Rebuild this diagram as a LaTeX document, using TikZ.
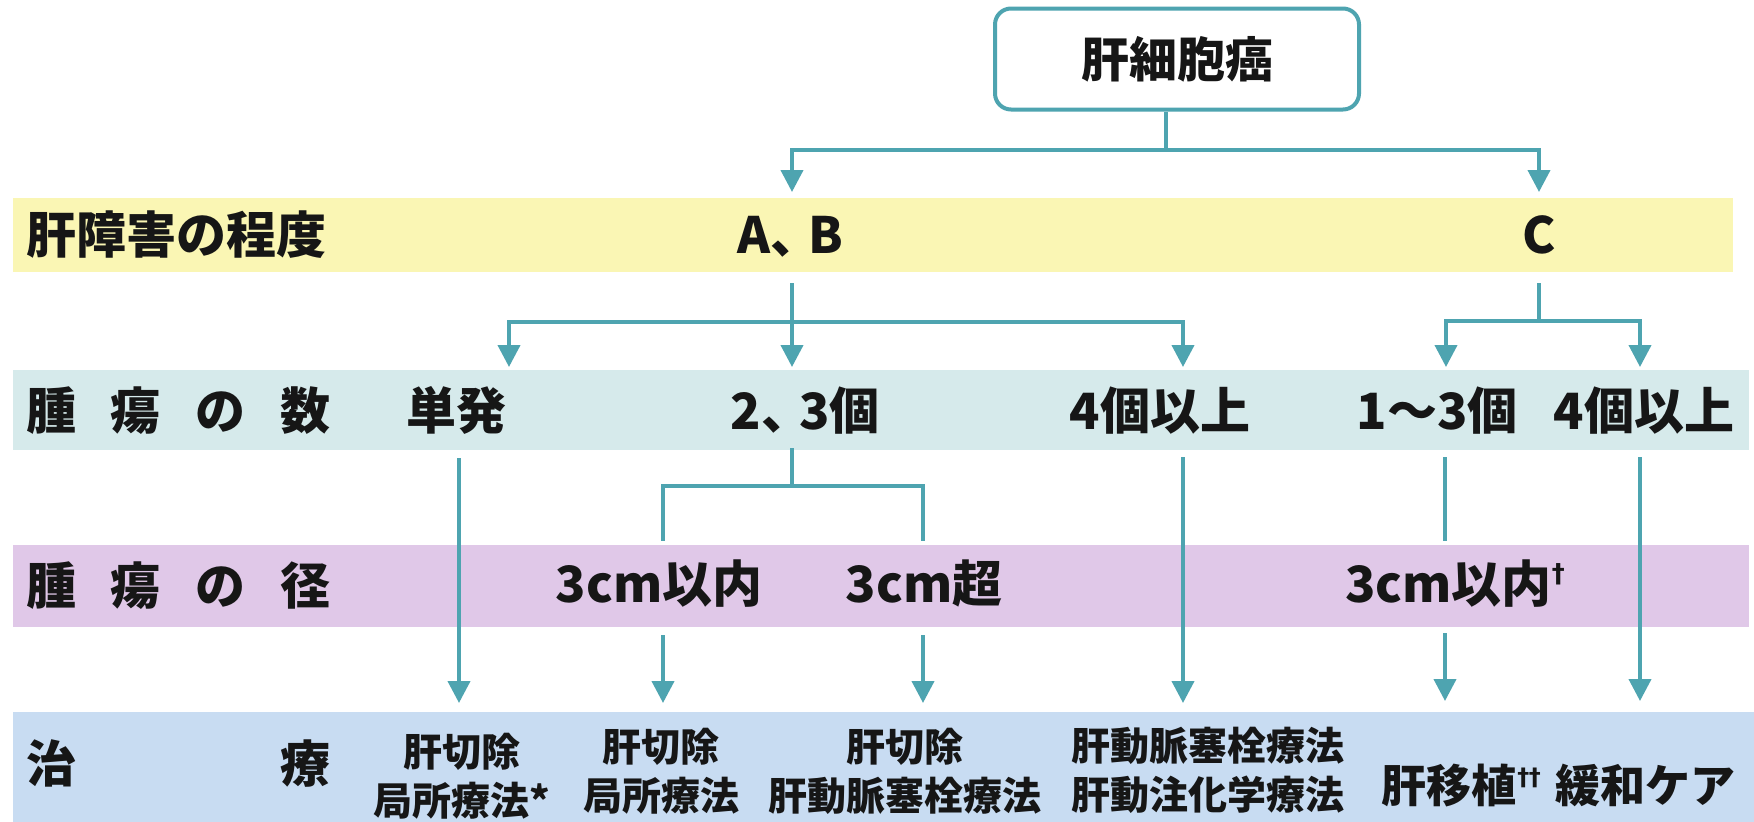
\documentclass[tikz,border=0pt]{standalone}
\usepackage{fontspec}
\setmainfont{Noto Sans CJK JP}
\newfontfamily\dvs{DejaVu Sans}
\usetikzlibrary{arrows.meta}
\definecolor{tealline}{RGB}{78,164,176}
\definecolor{yband}{RGB}{250,246,180}
\definecolor{cband}{RGB}{214,234,235}
\definecolor{pband}{RGB}{224,200,232}
\definecolor{bband}{RGB}{200,220,242}
\definecolor{ink}{RGB}{22,22,22}
\newcommand{\dg}[1]{{\dvs\fontsize{26}{26}\selectfont\raisebox{#1}{†}}}
\newcommand{\ddg}[1]{{\dvs\fontsize{24}{24}\selectfont\raisebox{#1}{\kern1pt†\kern-0.5pt†}}}
\newcommand{\tou}{、\kern-12pt}
\begin{document}
\begin{tikzpicture}[x=1pt,y=-1pt,
  band/.style={draw=none, inner sep=0pt, outer sep=0pt, anchor=north west},
  lbl/.style={font=\fontsize{50}{60}\selectfont\bfseries, text=ink, anchor=base west, inner sep=0pt},
  val/.style={font=\fontsize{50}{60}\selectfont\bfseries, text=ink, anchor=base, inner sep=0pt},
  trt/.style={font=\fontsize{39}{49}\selectfont\bfseries, text=ink, inner sep=0pt, align=center},
  big/.style={font=\fontsize{45}{50}\selectfont\bfseries, text=ink, anchor=base, inner sep=0pt},
  conn/.style={draw=tealline, line width=4pt},
  arr/.style={conn, -{Triangle[width=22pt,length=22pt]}},
]
\useasboundingbox (0,0) rectangle (1754,822);
\fill[white] (0,0) rectangle (1754,822);

% bands
\node[band, fill=yband, minimum width=1720pt, minimum height=74pt] (byel) at (13,198) {};
\node[band, fill=cband, minimum width=1736pt, minimum height=80pt] (bcy) at (13,370) {};
\node[band, fill=pband, minimum width=1736pt, minimum height=82pt] (bpu) at (13,545) {};
\node[band, fill=bband, minimum width=1741pt, minimum height=110pt] (bbl) at (13,712) {};

% top box
\node[draw=tealline, line width=4pt, rounded corners=16pt, fill=white,
      minimum width=364pt, minimum height=101pt, inner sep=0pt,
      font=\fontsize{48}{56}\selectfont\bfseries, text=ink] (hcc) at (1177,59) {肝細胞癌};

% row labels
\node[lbl] (l1) at (26,253) {肝障害の程度};
\node[lbl] (l2) at (26,429) {\makebox[304pt][s]{腫\hfill 瘍\hfill の\hfill 数}};
\node[lbl] (l3) at (26,604) {\makebox[304pt][s]{腫\hfill 瘍\hfill の\hfill 径}};
\node[lbl] (l4) at (26,782) {\makebox[304pt][s]{治\hfill 療}};

% values
\node[val] (ab) at (790,253) {A\tou B};
\node[val] (c) at (1539,253) {C};
\node[val] (tan) at (456,429) {単発};
\node[val] (n23) at (805,429) {2\tou 3個};
\node[val] (n4) at (1160,429) {4個以上};
\node[val] (n13) at (1437,429) {1～3個};
\node[val] (n4c) at (1644,429) {4個以上};
\node[val] (d3in) at (659,602) {3cm以内};
\node[val] (d3ov) at (924,602) {3cm超};
\node[val] (d3c) at (1455,602) {3cm以内\dg{20pt}};

% treatments
\node[trt] (t1) at (462,776) {肝切除\\局所療法*};
\node[trt] (t2) at (661,771) {肝切除\\局所療法};
\node[trt] (t3) at (905,771) {肝切除\\肝動脈塞栓療法};
\node[trt] (t4) at (1208,770) {肝動脈塞栓療法\\肝動注化学療法};
\node[big] (t5) at (1461,802) {肝移植\ddg{17pt}};
\node[big] (t6) at (1645,802) {緩和ケア};

% connectors: level 1
\coordinate (j0) at (1166,150);
\coordinate (tAB) at (792,192);
\coordinate (tC) at (1539,192);
\draw[conn] (hcc.south -| j0) -- (j0);
\draw[arr] (j0) -| (tAB);
\draw[arr] (j0) -| (tC);

% A,B split
\coordinate (sAB) at (792,283);
\coordinate (jAB) at (792,322);
\coordinate (tTan) at (509,367);
\coordinate (t23) at (792,367);
\coordinate (t4a) at (1183,367);
\draw[conn] (sAB) -- (jAB);
\draw[arr] (jAB) -| (tTan);
\draw[arr] (jAB) -- (t23);
\draw[arr] (jAB) -| (t4a);

% C split
\coordinate (sC) at (1539,283);
\coordinate (jC) at (1539,321);
\coordinate (t13) at (1446,367);
\coordinate (t4c) at (1640,367);
\draw[conn] (sC) -- (jC);
\draw[arr] (jC) -| (t13);
\draw[arr] (jC) -| (t4c);

% 2,3 split
\coordinate (s23) at (792,448);
\coordinate (j23) at (792,486);
\coordinate (e3in) at (663,541);
\coordinate (e3ov) at (923,541);
\draw[conn] (s23) -- (j23);
\draw[conn] (j23) -| (e3in);
\draw[conn] (j23) -| (e3ov);

% down arrows to treatments
\coordinate (sTan) at (459,458);  \coordinate (rTan) at (459,703);
\coordinate (s3in) at (663,635);  \coordinate (r3in) at (663,703);
\coordinate (s3ov) at (923,635);  \coordinate (r3ov) at (923,703);
\coordinate (s4a) at (1183,457);  \coordinate (r4a) at (1183,703);
\coordinate (s13) at (1445,457);  \coordinate (e13) at (1445,541);
\coordinate (s3c) at (1445,633);  \coordinate (r3c) at (1445,701);
\coordinate (s4c) at (1640,457);  \coordinate (r4c) at (1640,701);
\draw[arr] (sTan) -- (rTan);
\draw[arr] (s3in) -- (r3in);
\draw[arr] (s3ov) -- (r3ov);
\draw[arr] (s4a) -- (r4a);
\draw[conn] (s13) -- (e13);
\draw[arr] (s3c) -- (r3c);
\draw[arr] (s4c) -- (r4c);
\end{tikzpicture}
\end{document}
